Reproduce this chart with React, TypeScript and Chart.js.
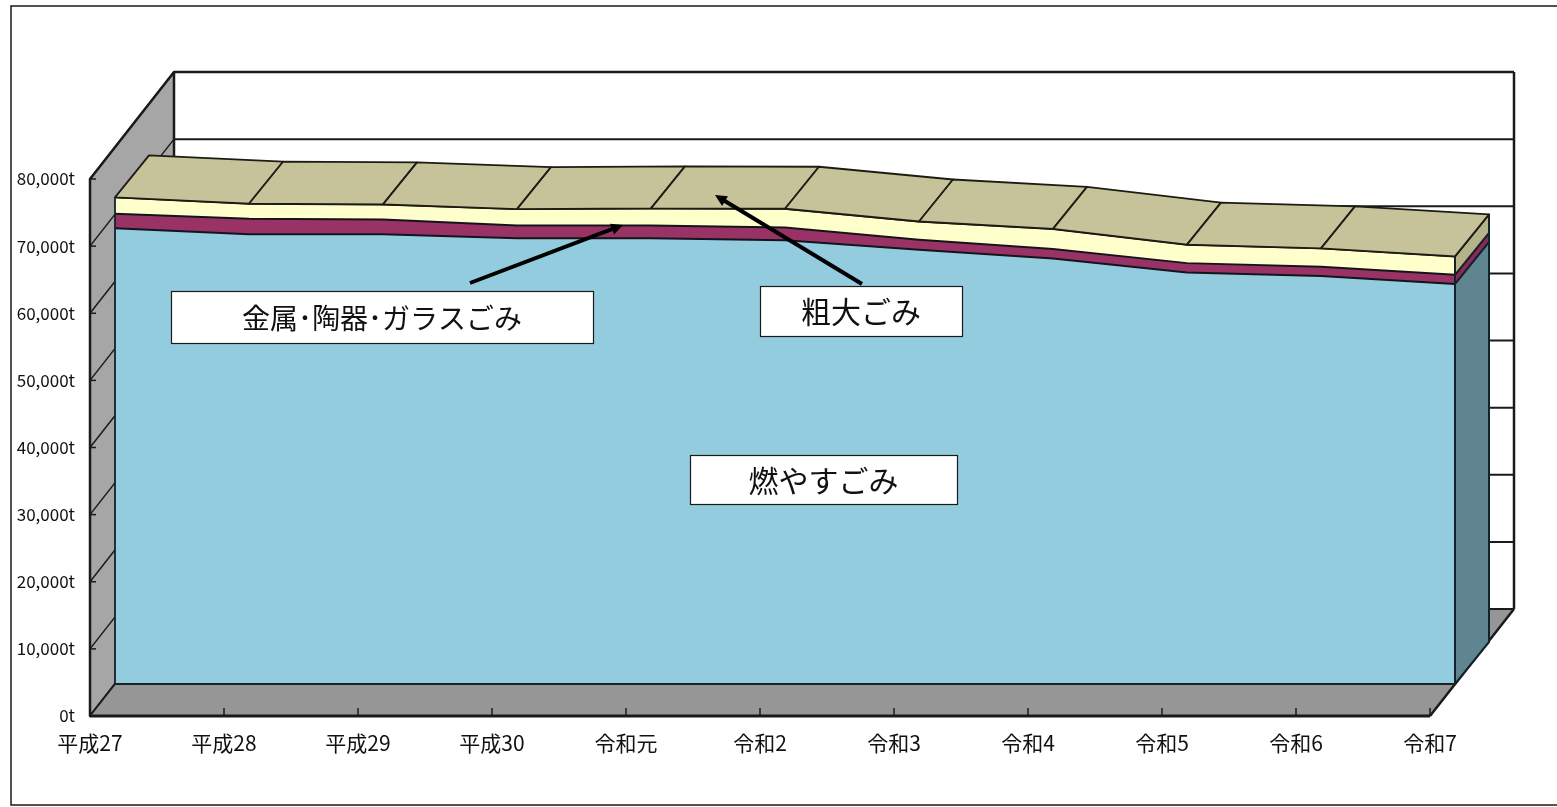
import React, { useEffect, useRef } from "react";
import { Chart, registerables } from "chart.js";

Chart.register(...registerables);

const categories = ["平成27", "平成28", "平成29", "平成30", "令和元", "令和2", "令和3", "令和4", "令和5", "令和6", "令和7"];
const burnable = [67900, 67000, 67000, 66400, 66400, 66100, 64700, 63400, 61300, 60800, 59600];
const metalCeramicGlass = [2150, 2300, 2200, 1900, 1900, 1900, 1500, 1400, 1400, 1350, 1350];
const oversized = [2450, 2250, 2250, 2450, 2550, 2800, 2700, 3000, 2750, 2750, 2750];
const seriesNames = ["燃やすごみ", "金属・陶器・ガラスごみ", "粗大ごみ"];
const yTicks = [0, 10000, 20000, 30000, 40000, 50000, 60000, 70000, 80000];

const FONT = '"Noto Sans CJK JP", "Noto Sans", sans-serif';
const INK = "#1a1a1a";
const FRONT_COLORS = ["#93ccde", "#993366", "#ffffcc"];
const SIDE_COLORS = ["#5f8590", "#8b2a58", "#b5b38a"];
const TOP_COLOR = "#c6c39a";

// Oblique projection offsets, measured from the plane of the series' front face.
const AXIS_DX = -25, AXIS_DY = 32; // front of the floor / value axis
const SERIES_DX = 34, SERIES_DY = -42; // depth of the area band
const WALL_DX = 59, WALL_DY = -75; // back wall

const labelBoxes = [
  { text: "金属･陶器･ガラスごみ", x: 171, y: 291, w: 422, h: 52, size: 28 },
  { text: "粗大ごみ", x: 760, y: 286, w: 202, h: 50, size: 30 },
  { text: "燃やすごみ", x: 690, y: 455, w: 267, h: 49, size: 30 },
];
const arrows = [
  { from: [470, 283], to: [623, 225] },
  { from: [862, 284], to: [715, 195] },
];

function poly(ctx: CanvasRenderingContext2D, pts: number[][], fill: string | null, stroke: string | null, lw = 2) {
  ctx.beginPath();
  pts.forEach((p, i) => (i ? ctx.lineTo(p[0], p[1]) : ctx.moveTo(p[0], p[1])));
  ctx.closePath();
  if (fill) { ctx.fillStyle = fill; ctx.fill(); }
  if (stroke) { ctx.strokeStyle = stroke; ctx.lineWidth = lw; ctx.lineJoin = "round"; ctx.stroke(); }
}
function seg(ctx: CanvasRenderingContext2D, x1: number, y1: number, x2: number, y2: number, lw = 2, c = INK) {
  ctx.beginPath();
  ctx.moveTo(x1, y1);
  ctx.lineTo(x2, y2);
  ctx.strokeStyle = c;
  ctx.lineWidth = lw;
  ctx.stroke();
}

const walls = {
  id: "walls",
  beforeDatasetsDraw(chart: any) {
    const { ctx, scales: { x, y } } = chart;
    const l = x.getPixelForValue(0), r = x.getPixelForValue(categories.length - 1);
    const b = y.getPixelForValue(0), t = y.getPixelForValue(80000);
    ctx.save();
    // chart frame
    ctx.strokeStyle = INK;
    ctx.lineWidth = 1.5;
    ctx.strokeRect(11, 6, 1600, 799);
    // left wall, floor
    poly(ctx, [[l + AXIS_DX, t + AXIS_DY], [l + WALL_DX, t + WALL_DY], [l + WALL_DX, b + WALL_DY], [l + AXIS_DX, b + AXIS_DY]], "#a6a6a6", INK, 2.5);
    poly(ctx, [[l + AXIS_DX, b + AXIS_DY], [r + AXIS_DX, b + AXIS_DY], [r + WALL_DX, b + WALL_DY], [l + WALL_DX, b + WALL_DY]], "#969696", null);
    // gridlines on the walls
    yTicks.forEach((v) => {
      const py = y.getPixelForValue(v);
      seg(ctx, l + AXIS_DX, py + AXIS_DY, l + WALL_DX, py + WALL_DY, 1.5);
      seg(ctx, l + WALL_DX, py + WALL_DY, r + WALL_DX, py + WALL_DY, v === 80000 ? 2.5 : 2);
      seg(ctx, l + AXIS_DX, py + AXIS_DY, l + AXIS_DX + 6, py + AXIS_DY, 1.5);
    });
    seg(ctx, r + WALL_DX, t + WALL_DY, r + WALL_DX, b + WALL_DY, 2.5);
    seg(ctx, r + WALL_DX, b + WALL_DY, r + AXIS_DX, b + AXIS_DY, 2.5);
    seg(ctx, l + AXIS_DX, b + AXIS_DY, r + AXIS_DX, b + AXIS_DY, 3);
    categories.forEach((_, i) => {
      const px = x.getPixelForValue(i) + AXIS_DX;
      seg(ctx, px, b + AXIS_DY, px, b + AXIS_DY - 8, 1.5);
    });
    ctx.restore();
  },
  afterDatasetsDraw(chart: any) {
    const { ctx, scales: { y } } = chart;
    const base = y.getPixelForValue(0);
    const pts = [0, 1, 2].map((i) => chart.getDatasetMeta(i).data as any[]);
    const last = categories.length - 1;
    ctx.save();
    // end (right-hand) faces of the three bands
    const lx = pts[0][last].x;
    const bottoms = [base, pts[0][last].y, pts[1][last].y];
    [0, 1, 2].forEach((i) => {
      const top = pts[i][last].y;
      const bot = bottoms[i];
      poly(ctx, [[lx, bot], [lx + SERIES_DX, bot + SERIES_DY], [lx + SERIES_DX, top + SERIES_DY], [lx, top]], SIDE_COLORS[i], "#14232a", 2);
    });
    // top surface, one facet per year step
    for (let i = 0; i < last; i++) {
      const a = pts[2][i], c = pts[2][i + 1];
      poly(ctx, [[a.x, a.y], [c.x, c.y], [c.x + SERIES_DX, c.y + SERIES_DY], [a.x + SERIES_DX, a.y + SERIES_DY]], TOP_COLOR, "#1c1c12", 1.8);
    }
    // outline of the front face
    const first = pts[0][0];
    seg(ctx, first.x, base, first.x, pts[2][0].y, 1.8, "#14232a");
    seg(ctx, first.x, base, pts[0][last].x, base, 2, "#14232a");
    seg(ctx, lx, base, lx, pts[2][last].y, 2, "#14232a");
    ctx.restore();
  },
  afterDraw(chart: any) {
    const { ctx } = chart;
    ctx.save();
    arrows.forEach(({ from, to }) => {
      const ang = Math.atan2(to[1] - from[1], to[0] - from[0]);
      const head = 13;
      seg(ctx, from[0], from[1], to[0] - Math.cos(ang) * head * 0.7, to[1] - Math.sin(ang) * head * 0.7, 4, "#000");
      poly(ctx, [
        to,
        [to[0] - head * Math.cos(ang - 0.45), to[1] - head * Math.sin(ang - 0.45)],
        [to[0] - head * Math.cos(ang + 0.45), to[1] - head * Math.sin(ang + 0.45)],
      ], "#000", null);
    });
    labelBoxes.forEach((b) => {
      ctx.fillStyle = "#fff";
      ctx.fillRect(b.x, b.y, b.w, b.h);
      ctx.strokeStyle = INK;
      ctx.lineWidth = 1.2;
      ctx.strokeRect(b.x + 0.5, b.y + 0.5, b.w, b.h);
      ctx.fillStyle = "#111";
      ctx.font = `${b.size}px ${FONT}`;
      ctx.textAlign = "center";
      ctx.textBaseline = "middle";
      ctx.fillText(b.text, b.x + b.w / 2, b.y + b.h / 2 + 1);
    });
    ctx.restore();
  },
};

export default function App() {
  const ref = useRef<HTMLCanvasElement>(null);
  useEffect(() => {
    const series = [burnable, metalCeramicGlass, oversized];
    const chart = new Chart(ref.current as HTMLCanvasElement, {
      type: "line",
      data: {
        labels: categories,
        datasets: series.map((data, i) => ({
          label: seriesNames[i],
          data,
          fill: i === 0 ? "origin" : "-1",
          backgroundColor: FRONT_COLORS[i],
          borderColor: "#14141c",
          borderWidth: 2,
          pointRadius: 0,
          tension: 0,
          clip: false as any,
        })),
      },
      options: {
        animation: false,
        responsive: false,
        devicePixelRatio: 1,
        layout: { padding: { left: 0, right: 102, top: 147, bottom: 0 } },
        plugins: { legend: { display: false }, tooltip: { enabled: false } },
        scales: {
          x: {
            type: "category",
            offset: false,
            grid: { display: false, drawTicks: false },
            border: { display: false },
            afterFit: (s: any) => { s.height = 123; },
            ticks: {
              autoSkip: false,
              maxRotation: 0,
              minRotation: 0,
              padding: 46,
              labelOffset: -25,
              color: "#111",
              font: { family: FONT, size: 21 },
            },
          },
          y: {
            stacked: true,
            min: 0,
            max: 80000,
            grid: { display: false, drawTicks: false },
            border: { display: false },
            afterFit: (s: any) => { s.width = 115; },
            afterBuildTicks: (s: any) => { s.ticks = yTicks.map((value) => ({ value })); },
            ticks: {
              padding: 40,
              labelOffset: 32,
              color: "#111",
              font: { family: FONT, size: 17 },
              callback: (v: any) => `${Number(v).toLocaleString("en-US")}t`,
            },
          },
        },
      },
      plugins: [walls],
    } as any);
    return () => chart.destroy();
  }, []);
  return (
    <canvas
      ref={ref}
      width={1557}
      height={807}
      style={{ position: "absolute", left: 0, top: 0, width: 1557, height: 807, display: "block" }}
    />
  );
}
